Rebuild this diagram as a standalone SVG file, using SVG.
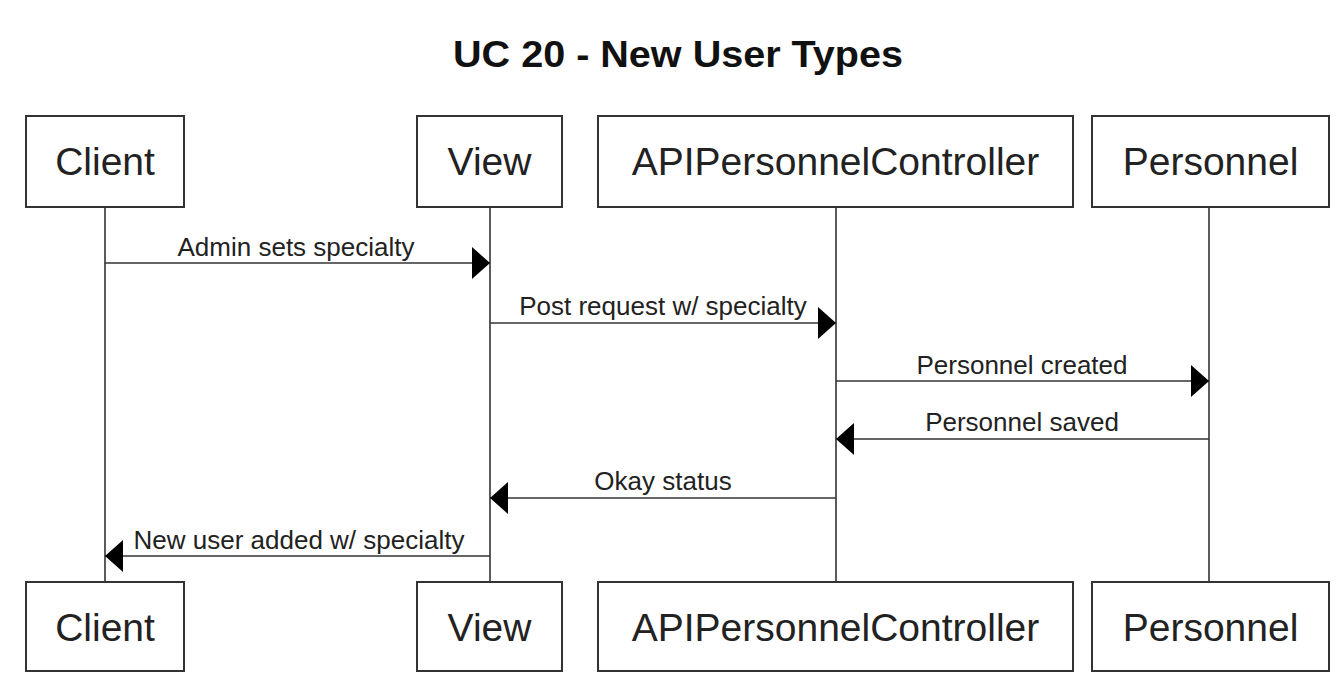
<svg xmlns="http://www.w3.org/2000/svg" width="1344" height="676" viewBox="0 0 1344 676">
  <defs>
    <style>
      .box { fill: #ffffff; stroke: #333333; stroke-width: 2; }
      .life { stroke: #333333; stroke-width: 1.6; fill: none; }
      .msg { stroke: #333333; stroke-width: 1.6; fill: none; marker-end: url(#arrow); }
      .name { font-family: "Liberation Sans", Arial, sans-serif; font-size: 39px; fill: #222222; text-anchor: middle; }
      .lbl { font-family: "Liberation Sans", Arial, sans-serif; font-size: 26px; fill: #222222; text-anchor: middle; }
      .title { font-family: "Liberation Sans", Arial, sans-serif; font-size: 37px; font-weight: bold; fill: #111111; text-anchor: middle; }
    </style>
    <marker id="arrow" markerUnits="userSpaceOnUse" markerWidth="18" markerHeight="32" refX="18" refY="16" orient="auto" viewBox="0 0 18 32">
      <path d="M0,0 L18,16 L0,32 Z" fill="#000000"/>
    </marker>
  </defs>
  <rect width="1344" height="676" fill="#ffffff"/>

  <text class="title" x="678" y="67" textLength="450" lengthAdjust="spacingAndGlyphs">UC 20 - New User Types</text>

  <g id="lifelines">
    <line class="life" x1="105" y1="207" x2="105" y2="582"/>
    <line class="life" x1="490" y1="207" x2="490" y2="582"/>
    <line class="life" x1="836" y1="207" x2="836" y2="582"/>
    <line class="life" x1="1209" y1="207" x2="1209" y2="582"/>
  </g>

  <g id="client-top">
    <rect class="box" x="26" y="116" width="158" height="91"/>
    <text class="name" x="105" y="175">Client</text>
  </g>
  <g id="view-top">
    <rect class="box" x="417" y="116" width="145" height="91"/>
    <text class="name" x="489.5" y="175">View</text>
  </g>
  <g id="api-top">
    <rect class="box" x="598" y="116" width="475" height="91"/>
    <text class="name" x="835.5" y="175">APIPersonnelController</text>
  </g>
  <g id="personnel-top">
    <rect class="box" x="1092" y="116" width="237" height="91"/>
    <text class="name" x="1210.5" y="175">Personnel</text>
  </g>

  <g id="client-bottom">
    <rect class="box" x="26" y="582" width="158" height="89"/>
    <text class="name" x="105" y="641">Client</text>
  </g>
  <g id="view-bottom">
    <rect class="box" x="417" y="582" width="145" height="89"/>
    <text class="name" x="489.5" y="641">View</text>
  </g>
  <g id="api-bottom">
    <rect class="box" x="598" y="582" width="475" height="89"/>
    <text class="name" x="835.5" y="641">APIPersonnelController</text>
  </g>
  <g id="personnel-bottom">
    <rect class="box" x="1092" y="582" width="237" height="89"/>
    <text class="name" x="1210.5" y="641">Personnel</text>
  </g>

  <g id="connectors">
    <line class="msg" x1="105" y1="263" x2="490" y2="263"/>
    <text class="lbl" x="296" y="256">Admin sets specialty</text>

    <line class="msg" x1="490" y1="323" x2="836" y2="323"/>
    <text class="lbl" x="663" y="315">Post request w/ specialty</text>

    <line class="msg" x1="836" y1="381" x2="1209" y2="381"/>
    <text class="lbl" x="1022" y="374">Personnel created</text>

    <line class="msg" x1="1209" y1="439" x2="836" y2="439"/>
    <text class="lbl" x="1022" y="431">Personnel saved</text>

    <line class="msg" x1="836" y1="498" x2="490" y2="498"/>
    <text class="lbl" x="663" y="490">Okay status</text>

    <line class="msg" x1="490" y1="556" x2="105" y2="556"/>
    <text class="lbl" x="299" y="549">New user added w/ specialty</text>
  </g>
</svg>
